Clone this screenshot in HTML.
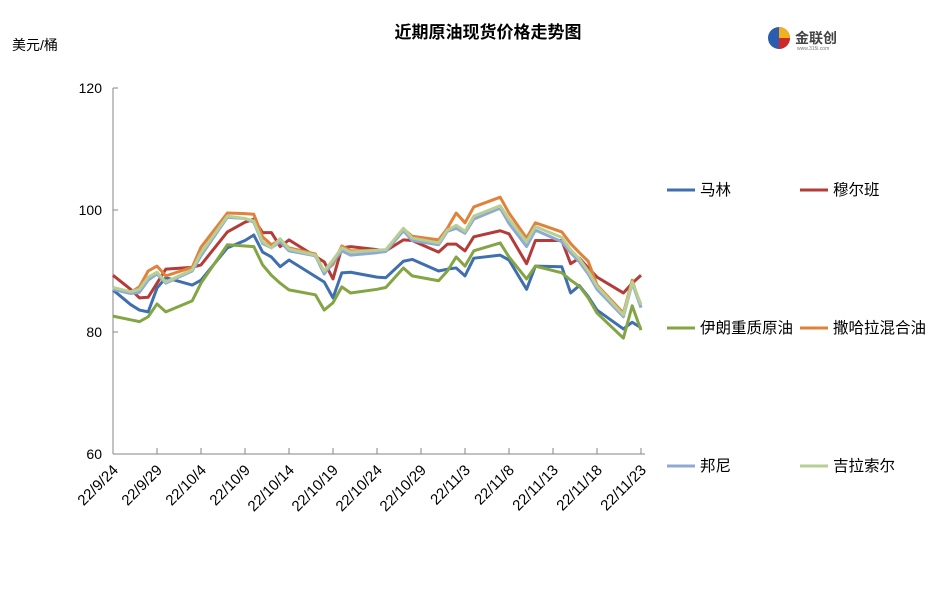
<!DOCTYPE html>
<html><head><meta charset="utf-8"><style>
html,body{margin:0;padding:0;background:#fff;}
svg text{font-family:"Liberation Sans","Noto Sans CJK SC",sans-serif;}
</style></head><body>
<svg id="chart" width="937" height="601" viewBox="0 0 937 601" xmlns="http://www.w3.org/2000/svg">
<text x="488" y="38" text-anchor="middle" font-size="17" font-weight="bold" fill="#000">近期原油现货价格走势图</text>
<text x="12" y="50" font-size="14" fill="#000">美元/桶</text>
<g>
<circle cx="779" cy="38" r="11" fill="#2a5db0"/>
<path d="M779 27 A11 11 0 0 1 790 38 L779 38 Z" fill="#f0b020"/>
<path d="M779 38 L790 38 A11 11 0 0 1 779 49 Z" fill="#d02828"/>
<text x="795" y="43" font-size="14" font-weight="bold" fill="#444">金联创</text>
<text x="797" y="50" font-size="5" fill="#777">www.315i.com</text>
</g>
<g id="axes"></g>
<g id="series"></g>
<g id="legend"></g>
</svg>
<script>
const days=[0,2,3,4,5,6,9,10,13,15,16,17,18,19,20,23,24,25,26,27,30,31,33,34,37,38,39,40,41,44,45,47,48,51,52,53,54,55,58,59,60];
const tickLabels=["22/9/24","22/9/29","22/10/4","22/10/9","22/10/14","22/10/19","22/10/24","22/10/29","22/11/3","22/11/8","22/11/13","22/11/18","22/11/23"];
const yTicks=[60,80,100,120];
const names=["马林","穆尔班","伊朗重质原油","撒哈拉混合油","邦尼","吉拉索尔"];
const marlin=[86.9,84.5,83.6,83.3,87.2,88.9,87.7,88.5,93.8,95.0,95.9,93.1,92.3,90.7,91.8,89.1,88.2,85.6,89.7,89.8,89.0,88.9,91.6,91.9,90.0,90.3,90.5,89.2,92.1,92.6,91.8,87.0,90.8,90.7,86.4,87.6,85.8,83.6,80.5,81.6,80.7];
const murban=[89.3,87.0,85.6,85.7,88.0,90.3,90.6,91.0,96.4,98.0,98.5,96.3,96.3,94.0,95.1,92.4,91.5,88.7,93.8,94.0,93.5,93.3,95.1,95.0,93.1,94.4,94.4,93.3,95.6,96.6,96.1,91.2,95.0,95.0,91.2,92.1,90.5,89.0,86.4,88.0,89.3];
const iranHeavy=[82.6,82.0,81.7,82.5,84.6,83.3,85.1,88.0,94.3,94.1,94.0,91.0,89.3,88.0,86.9,86.1,83.6,84.8,87.4,86.4,87.0,87.3,90.5,89.2,88.4,90.0,92.3,90.8,93.3,94.6,92.3,88.7,90.8,89.7,88.5,87.5,85.6,83.1,79.0,84.3,80.3];
const saharan=[87.2,86.5,87.4,90.0,90.8,89.2,90.6,93.9,99.5,99.4,99.3,95.6,94.3,95.1,93.8,92.8,89.8,91.1,94.1,93.3,93.4,93.4,96.9,95.7,95.1,97.0,99.5,97.9,100.5,102.1,99.5,95.4,97.9,96.4,94.5,93.0,91.6,87.7,83.1,88.5,84.0];
const bonny=[87.0,86.3,86.5,88.5,89.5,88.0,90.0,92.5,98.8,98.6,98.0,94.5,93.8,94.8,93.3,92.5,89.5,91.5,93.3,92.6,93.0,93.2,96.6,95.0,94.3,96.5,97.0,96.2,98.5,100.3,97.8,94.0,96.7,94.8,93.0,91.5,89.5,87.0,82.5,88.0,84.0];
const girassol=[87.3,86.6,87.0,89.0,89.8,88.2,90.2,93.0,99.0,98.6,98.2,94.8,93.8,95.3,93.6,92.6,90.0,91.8,93.8,93.1,93.4,93.5,97.0,95.4,94.6,96.7,97.5,96.5,99.0,100.7,98.5,94.8,97.3,95.5,93.5,92.0,90.0,87.5,82.8,88.2,84.5];
const colors=["#3f6fae","#b43c38","#84a544","#e2823a","#8fa9d4","#b7cf93"];
const NS="http://www.w3.org/2000/svg";
const X0=113,X1=645,DX=8.8,Y0=454,Y1=88;
function xs(d){return X0+d*DX;}
function ys(v){return Y0-(v-60)/60*(Y0-Y1);}
function mk(tag,attrs,parent){const e=document.createElementNS(NS,tag);for(const k in attrs)e.setAttribute(k,attrs[k]);parent.appendChild(e);return e;}
const axes=document.getElementById('axes');
let ya=mk('line',{x1:X0,y1:Y1,x2:X0,y2:Y0,stroke:'#868686','stroke-width':1},axes);


let xa=mk('line',{x1:X0,y1:Y0,x2:X1,y2:Y0,stroke:'#868686','stroke-width':1},axes);


yTicks.forEach(v=>{
  mk('line',{x1:X0,y1:ys(v),x2:X0+5,y2:ys(v),stroke:'#868686'},axes);
  const t=mk('text',{x:X0-11,y:ys(v)+5,'text-anchor':'end','font-size':14,fill:'#000'},axes);
  
  
  t.textContent=v;
});
tickLabels.forEach((l,i)=>{
  const x=xs(i*5);
  if(i>0)mk('line',{x1:x,y1:Y0,x2:x,y2:Y0-6,stroke:'#868686'},axes);
  const t=mk('text',{x:x+6,y:Y0+17,'text-anchor':'end','font-size':15,fill:'#000',transform:`rotate(-45 ${x+6} ${Y0+17})`},axes);
  
  
  t.textContent=l;
});
const series=[marlin,murban,iranHeavy,saharan,bonny,girassol];
const sg=document.getElementById('series');
[0,1,2,3,4,5].forEach(si=>{
  const vals=series[si];
  const p=mk('polyline',{points:vals.map((v,i)=>xs(days[i])+','+ys(v)).join(' '),fill:'none',stroke:colors[si],'stroke-width':3,'stroke-linejoin':'round'},sg);
  
  
});
const lg=document.getElementById('legend');
const lpos=[[667,190],[800,190],[667,328],[800,328],[667,466],[800,466]];
names.forEach((n,i)=>{
  const [x,y]=lpos[i];
  const g=mk('g',{},lg);
  
  
  mk('line',{x1:x,y1:y,x2:x+28,y2:y,stroke:colors[i],'stroke-width':3},g);
  const t=mk('text',{x:x+33,y:y+5,'font-size':15.5,fill:'#000'},g);
  t.textContent=n;
});
</script>
</body></html>
